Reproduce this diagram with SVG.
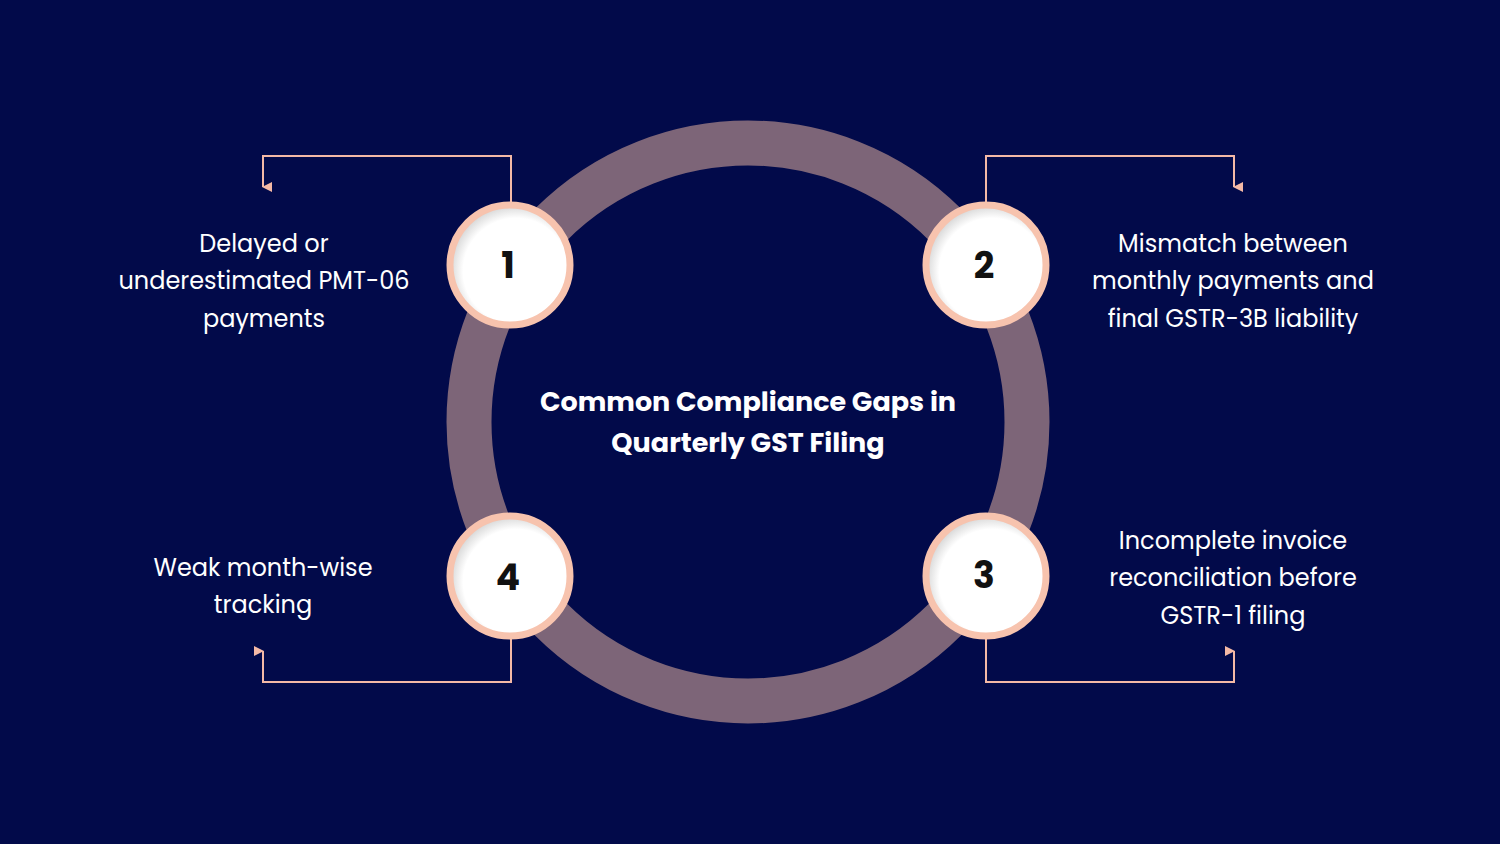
<svg xmlns="http://www.w3.org/2000/svg" width="1500" height="844" viewBox="0 0 1500 844">
<style>
.t{font-family:Poppins,"Open Sans","Liberation Sans",sans-serif;fill:#fff;font-size:24px;text-anchor:middle}
.h{font-family:Poppins,"Open Sans","Liberation Sans",sans-serif;fill:#fff;font-size:27px;font-weight:bold;text-anchor:middle}
.n{font-family:Poppins,"Open Sans","Liberation Sans",sans-serif;fill:#111;font-size:36px;font-weight:bold;text-anchor:middle}
.c{fill:none;stroke:#f4b9a6;stroke-width:2}
.b{fill:url(#g);stroke:#f7c3ae;stroke-width:7}
</style>
<defs>
<radialGradient id="g" cx="0.55" cy="0.55" r="0.55"><stop offset="0.8" stop-color="#fff"/><stop offset="1" stop-color="#d8d8d8"/></radialGradient>
<marker id="a" viewBox="0 0 10 10" refX="5" refY="9" markerWidth="5" markerHeight="5" orient="auto-start-reverse"><path d="M0,0L10,0L5,10z" fill="#f4b9a6" transform="rotate(0)"/></marker>
</defs>
<rect width="1500" height="844" fill="#020a4a"/>
<circle cx="748" cy="422" r="279" fill="none" stroke="#7d6578" stroke-width="45"/>
<g id="connectors">
<path class="c" d="M511,203V156H263V187" marker-end="url(#a)"/>
<path class="c" d="M986,203V156H1234V187" marker-end="url(#a)"/>
<path class="c" d="M986,639V682H1234V651" marker-end="url(#a)"/>
<path class="c" d="M511,639V682H263V651" marker-end="url(#a)"/>
</g>
<g id="title"><text class="h" x="748" y="411">Common Compliance Gaps in</text><text class="h" x="748" y="452">Quarterly GST Filing</text></g>
<g id="node1"><circle class="b" cx="510" cy="265" r="60"/><text class="n" x="508" y="278">1</text>
<text class="t" x="264" y="252">Delayed or</text><text class="t" x="264" y="289">underestimated PMT-06</text><text class="t" x="264" y="327">payments</text></g>
<g id="node2"><circle class="b" cx="986" cy="265" r="60"/><text class="n" x="984" y="278">2</text>
<text class="t" x="1233" y="252">Mismatch between</text><text class="t" x="1233" y="289">monthly payments and</text><text class="t" x="1233" y="327">final GSTR-3B liability</text></g>
<g id="node3"><circle class="b" cx="986" cy="576" r="60"/><text class="n" x="984" y="588">3</text>
<text class="t" x="1233" y="549">Incomplete invoice</text><text class="t" x="1233" y="586">reconciliation before</text><text class="t" x="1233" y="624">GSTR-1 filing</text></g>
<g id="node4"><circle class="b" cx="510" cy="576" r="60"/><text class="n" x="508" y="590">4</text>
<text class="t" x="263" y="576">Weak month-wise</text><text class="t" x="263" y="613">tracking</text></g>
</svg>
